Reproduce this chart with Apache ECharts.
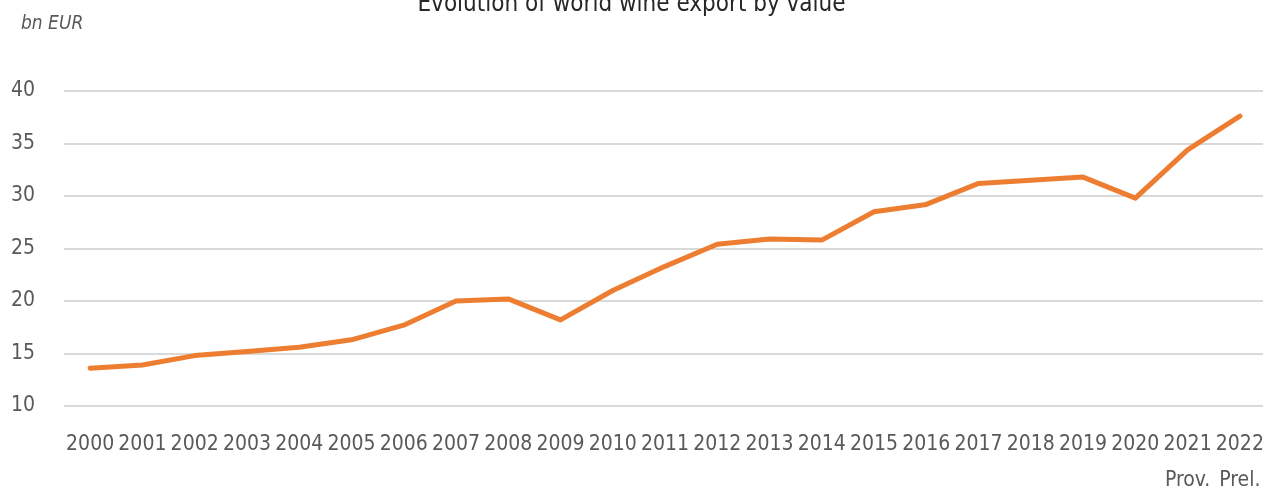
<!DOCTYPE html>
<html>
<head>
<meta charset="utf-8">
<script src="https://cdn.jsdelivr.net/npm/echarts@6/dist/echarts.min.js"></script>
<style>
  html, body { margin: 0; padding: 0; background: #fff; }
  #main { width: 1263px; height: 493px; }
</style>
</head>
<body>
<div id="main"></div>
<script>
  var years = ['2000','2001','2002','2003','2004','2005','2006','2007','2008','2009','2010','2011',
               '2012','2013','2014','2015','2016','2017','2018','2019','2020','2021','2022'];
  var exportValue = [13.6, 13.9, 14.8, 15.2, 15.6, 16.3, 17.7, 20.0, 20.2, 18.2, 21.0, 23.3,
                     25.4, 25.9, 25.8, 28.5, 29.2, 31.2, 31.5, 31.8, 29.8, 34.4, 37.6];
  var yearNotes = { '2021': 'Prov.', '2022': 'Prel.' };

  var font = '"Liberation Sans Narrow", "DejaVu Sans Condensed", "Roboto", sans-serif';
  var grey = '#595959';

  var chart = echarts.init(document.getElementById('main'));
  chart.setOption({
    animation: false,
    title: [
      {
        text: 'Evolution of world wine export by value',
        left: 'center',
        top: -12,
        textStyle: { fontFamily: font, fontSize: 24, fontWeight: 'normal', color: '#262626' }
      },
      {
        text: 'bn EUR',
        left: 16,
        top: 10,
        textStyle: { fontFamily: font, fontSize: 19, fontStyle: 'italic', fontWeight: 'normal', color: grey }
      }
    ],
    grid: { left: 64, right: -3, top: 91, bottom: 87, outerBoundsMode: 'none', containLabel: false },
    xAxis: {
      type: 'category',
      data: years,
      boundaryGap: true,
      axisLine: { show: false },
      axisTick: { show: false },
      axisLabel: {
        interval: 0,
        margin: 21,
        fontFamily: font,
        fontSize: 21,
        lineHeight: 36,
        color: grey,
        formatter: function (v) {
          return yearNotes[v] ? v + '\n{note|' + yearNotes[v] + '}' : v;
        },
        rich: {
          note: { fontFamily: font, fontSize: 21, color: grey, lineHeight: 36 }
        }
      }
    },
    yAxis: {
      type: 'value',
      min: 10,
      max: 40,
      interval: 5,
      axisLine: { show: false },
      axisTick: { show: false },
      splitLine: { lineStyle: { color: '#d9d9d9', width: 2 } },
      axisLabel: { margin: 29, fontFamily: font, fontSize: 21, color: grey }
    },
    series: [
      {
        type: 'line',
        data: exportValue,
        symbol: 'none',
        lineStyle: { color: '#ED7D31', width: 5, cap: 'round', join: 'round' }
      }
    ]
  });
</script>
</body>
</html>
